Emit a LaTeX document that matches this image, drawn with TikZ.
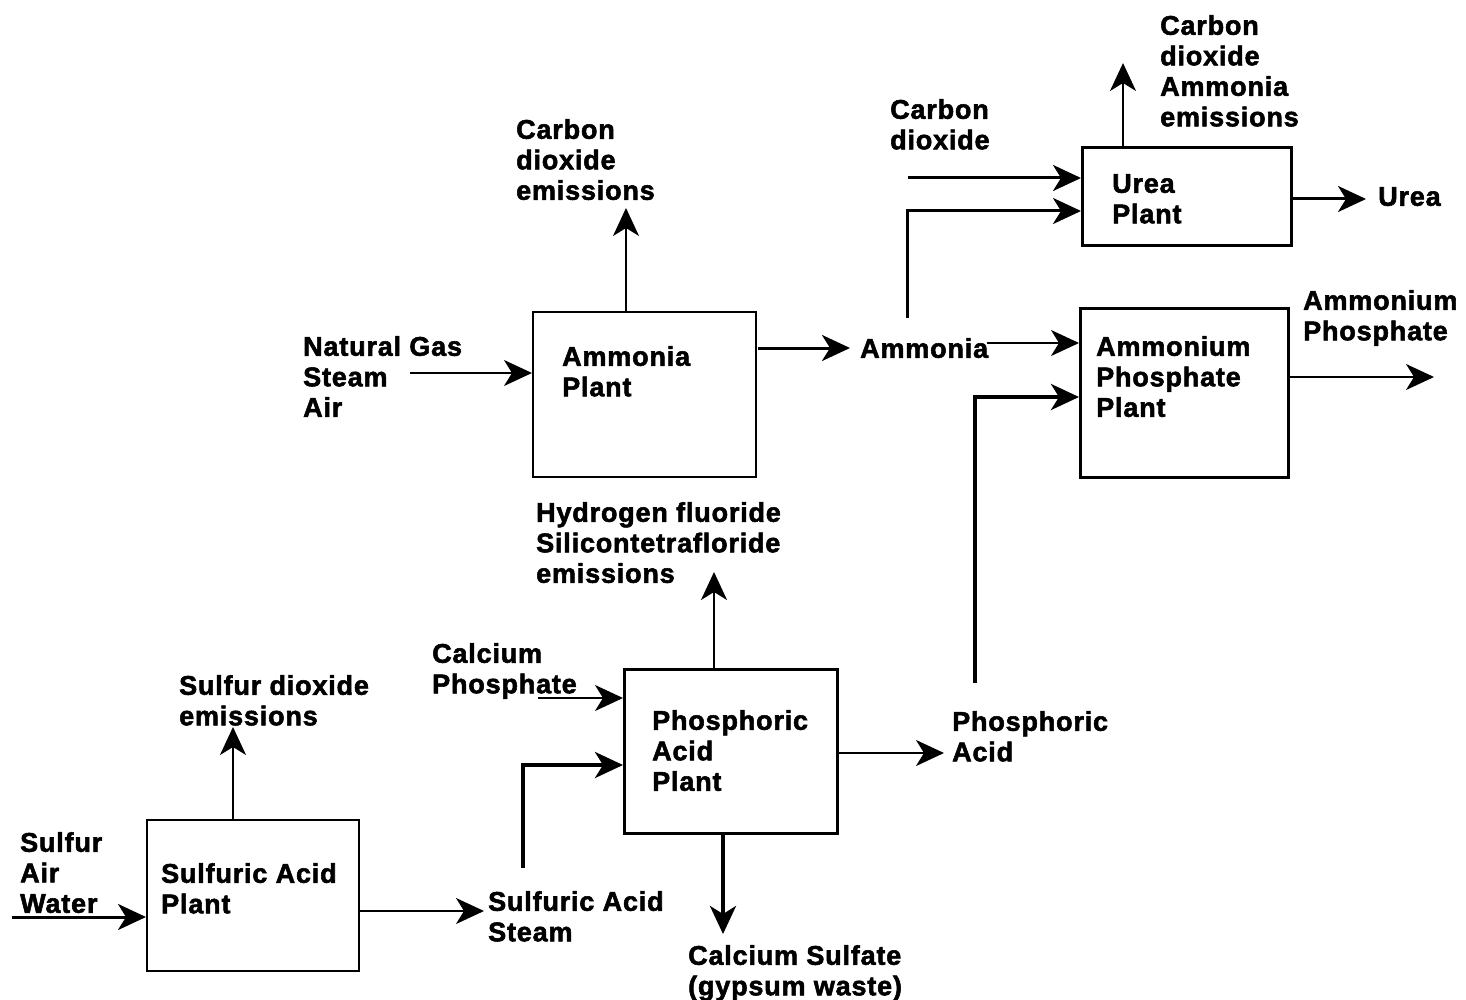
\documentclass[tikz,border=0pt]{standalone}
\usepackage{fontspec}
\setmainfont{Liberation Sans}[LetterSpace=3, BoldFeatures={FakeBold=2}]
\usetikzlibrary{arrows.meta}
\newcommand{\lblfont}{\fontsize{27}{30.5}\selectfont\bfseries}
\tikzset{
  box/.style={draw, rectangle, inner sep=0pt, anchor=north west},
  lbl/.style={anchor=north west, inner sep=0pt, align=left, font=\lblfont},
  arr/.style={-{Stealth[length=28pt,width=26pt,inset=8pt]}},
  w2/.style={line width=2pt},
  w3/.style={line width=3pt},
  w4/.style={line width=3.8pt},
}
\begin{document}
\begin{tikzpicture}[x=1pt,y=-1pt]
\fill[white] (0,0) rectangle (1466,1000);
\useasboundingbox (0,0) rectangle (1466,1000);

% ---------- Sulfuric acid plant ----------
\node[box, w2, minimum width=212pt, minimum height=151pt] (sap) at (146,819) {};
\node[lbl] (saptext) at (161,863) {Sulfuric Acid\\Plant};
\node[lbl] (sin) at (20,832) {Sulfur\\Air\\Water};
\node[lbl] (sdo) at (179,675) {Sulfur dioxide\\emissions};
\node[lbl] (saout) at (488,891) {Sulfuric Acid\\Steam};
\coordinate (sinstart) at (12,917);
\draw[arr, w3] (sinstart) -- (sap.west |- sinstart);
\draw[arr, w2] (sap.east |- 0,911) -- ([xshift=-4pt]saout.west |- 0,911);
\draw[arr, w2] (233,0 |- sap.north) -- (233,727);

% ---------- Phosphoric acid plant ----------
\node[box, w3, minimum width=213pt, minimum height=164pt] (pap) at (623,668) {};
\node[lbl] (paptext) at (652,710) {Phosphoric\\Acid\\Plant};
\node[lbl] (cap) at (432,643) {Calcium\\Phosphate};
\node[lbl] (hf) at (536,502) {Hydrogen fluoride\\Silicontetrafloride\\emissions};
\node[lbl] (cas) at (688,945) {Calcium Sulfate\\(gypsum waste)};
\node[lbl] (pa) at (952,711) {Phosphoric\\Acid};
\draw[arr, w4] (523,868) -- (523,765) -- (pap.west |- 0,765);
\draw[arr, w2] (538,698) -- (pap.west |- 0,698);
\draw[arr, w2] (714,0 |- pap.north) -- (714,572);
\draw[arr, w4] (723,0 |- pap.south) -- (723,934);
\draw[arr, w2] (pap.east |- 0,753) -- (944,753);

% ---------- Ammonium phosphate plant ----------
\node[box, w3, minimum width=208pt, minimum height=169pt] (app) at (1079,307) {};
\node[lbl] (apptext) at (1096,336) {Ammonium\\Phosphate\\Plant};
\node[lbl] (apout) at (1303,290) {Ammonium\\Phosphate};
\draw[arr, w4] (975,683) -- (975,397) -- (app.west |- 0,397);
\draw[arr, w2] (app.east |- 0,377) -- (1434,377);

% ---------- Ammonia plant ----------
\node[box, w2, minimum width=223pt, minimum height=165pt] (amp) at (532,311) {};
\node[lbl] (amptext) at (562,346) {Ammonia\\Plant};
\node[lbl] (ngs) at (303,336) {Natural Gas\\Steam\\Air};
\node[lbl] (co2a) at (516,119) {Carbon\\dioxide\\emissions};
\node[lbl] (amm) at (860,338) {Ammonia};
\draw[arr, w2] (410,373) -- (amp.west |- 0,373);
\draw[arr, w2] (626,0 |- amp.north) -- (626,208);
\draw[arr, w3] (758,348) -- ([xshift=-10pt]amm.west |- 0,348);
\draw[arr, w2] (987,343) -- (app.west |- 0,343);

% ---------- Urea plant ----------
\node[box, w3, minimum width=209pt, minimum height=98pt] (urea) at (1081,146) {};
\node[lbl] (ureatext) at (1112,174) {Urea\\Plant};
\node[lbl] (co2in) at (890,99) {Carbon\\dioxide};
\node[lbl] (uem) at (1160,15) {Carbon\\dioxide\\Ammonia\\emissions};
\node[lbl] (uout) at (1378,187) {Urea};
\draw[arr, w3] (907,318) -- (907,211) -- (urea.west |- 0,211);
\draw[arr, w3] (908,178) -- (urea.west |- 0,178);
\draw[arr, w2] (1123,0 |- urea.north) -- (1123,63);
\draw[arr, w3] (urea.east |- 0,199) -- (1366,199);
\end{tikzpicture}
\end{document}
